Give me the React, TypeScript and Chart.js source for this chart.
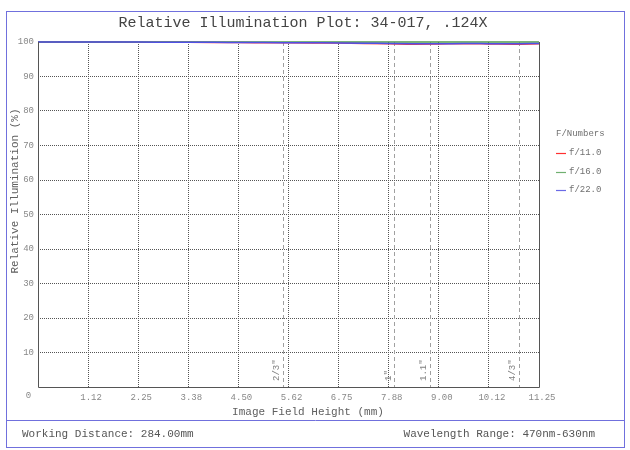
import React, { useEffect, useRef } from 'react';
import { Chart, registerables } from 'chart.js';

Chart.register(...registerables);

const TITLE = 'Relative Illumination Plot: 34-017, .124X';
const X_TITLE = 'Image Field Height (mm)';
const Y_TITLE = 'Relative Illumination (%)';
const FOOTER_LEFT = 'Working Distance: 284.00mm';
const FOOTER_RIGHT = 'Wavelength Range: 470nm-630nm';
const LEGEND_TITLE = 'F/Numbers';

const fieldHeights = [0, 0.5625, 1.125, 1.6875, 2.25, 2.8125, 3.375, 3.9375, 4.5, 5.0625, 5.625, 6.1875, 6.75, 7.3125, 7.875, 8.4375, 9.0, 9.5625, 10.125, 10.6875, 11.25];
const f11Values = [100, 100, 100, 99.98, 99.96, 99.93, 99.9, 99.87, 99.84, 99.8, 99.76, 99.72, 99.68, 99.6, 99.5, 99.38, 99.42, 99.5, 99.45, 99.38, 99.5];
const f16Values = [100, 100, 100, 100, 100, 100, 100, 100, 100, 100, 100, 100, 100, 100, 100, 99.98, 99.97, 99.98, 99.98, 99.97, 99.98];
const f22Values = [100, 100, 100, 100, 99.98, 99.95, 99.92, 99.9, 99.87, 99.84, 99.8, 99.76, 99.72, 99.66, 99.58, 99.52, 99.5, 99.55, 99.52, 99.5, 99.6];

const seriesLabels = ['f/11.0', 'f/16.0', 'f/22.0'];
const seriesColors = ['#ff3838', '#4f9a4f', '#5050e6'];
const legendColors = ['#ff3030', '#70b070', '#6a6ae6'];

const xTickValues = [0, 1.125, 2.25, 3.375, 4.5, 5.625, 6.75, 7.875, 9.0, 10.125, 11.25];
const xTickLabels = ['0', '1.12', '2.25', '3.38', '4.50', '5.62', '6.75', '7.88', '9.00', '10.12', '11.25'];
const yTickStep = 10;

const sensorPositions = [5.5, 8.0, 8.8, 10.8];
const sensorLabels = ['2/3"', '1"', '1.1"', '4/3"'];

const MONO = '"Liberation Mono", "DejaVu Sans Mono", monospace';

const overlayPlugin = {
  id: 'overlay',
  beforeDatasetsDraw(chart: any) {
    const { ctx, chartArea, scales } = chart;
    const xs = scales.x;
    ctx.save();
    ctx.strokeStyle = '#a0a0a0';
    ctx.lineWidth = 1;
    ctx.setLineDash([4, 3]);
    sensorPositions.forEach((v) => {
      const x = Math.round(xs.getPixelForValue(v)) + 0.5;
      ctx.beginPath();
      ctx.moveTo(x, chartArea.top);
      ctx.lineTo(x, chartArea.bottom);
      ctx.stroke();
    });
    ctx.setLineDash([]);
    ctx.fillStyle = '#808080';
    ctx.font = '9px ' + MONO;
    ctx.textAlign = 'left';
    ctx.textBaseline = 'middle';
    sensorPositions.forEach((v, i) => {
      const x = xs.getPixelForValue(v);
      ctx.save();
      ctx.translate(x - 6, chartArea.bottom - 6);
      ctx.rotate(-Math.PI / 2);
      ctx.fillText(sensorLabels[i], 0, 0);
      ctx.restore();
    });
    ctx.restore();
  },
  afterDraw(chart: any) {
    const { ctx, chartArea } = chart;
    ctx.save();
    // plot frame (left, bottom, right)
    ctx.strokeStyle = '#555';
    ctx.lineWidth = 1;
    ctx.beginPath();
    const l = Math.round(chartArea.left) + 0.5;
    const r = Math.round(chartArea.right) + 0.5;
    const b = Math.round(chartArea.bottom) + 0.5;
    ctx.moveTo(l, chartArea.top);
    ctx.lineTo(l, b);
    ctx.lineTo(r, b);
    ctx.lineTo(r, chartArea.top);
    ctx.stroke();

    // origin label
    ctx.fillStyle = '#888';
    ctx.font = '9px ' + MONO;
    ctx.textAlign = 'center';
    ctx.textBaseline = 'middle';
    ctx.fillText('0', 28.5, 396);

    // title
    ctx.fillStyle = '#444';
    ctx.font = '15px ' + MONO;
    ctx.textAlign = 'center';
    ctx.fillText(TITLE, 303, 23);

    // axis titles
    ctx.fillStyle = '#606060';
    ctx.font = '11px ' + MONO;
    ctx.fillText(X_TITLE, 308, 412);
    ctx.save();
    ctx.translate(15.5, 191);
    ctx.rotate(-Math.PI / 2);
    ctx.fillText(Y_TITLE, 0, 0);
    ctx.restore();

    // footer
    ctx.fillStyle = '#555';
    ctx.textAlign = 'left';
    ctx.fillText(FOOTER_LEFT, 22, 434);
    ctx.textAlign = 'right';
    ctx.fillText(FOOTER_RIGHT, 595, 434);

    // legend
    ctx.font = '9px ' + MONO;
    ctx.fillStyle = '#707070';
    ctx.textAlign = 'left';
    ctx.fillText(LEGEND_TITLE, 556, 134);
    seriesLabels.forEach((lab, i) => {
      const y = 153 + i * 18.5;
      ctx.strokeStyle = legendColors[i];
      ctx.lineWidth = 1.2;
      ctx.beginPath();
      ctx.moveTo(556, Math.round(y) + 0.5);
      ctx.lineTo(566, Math.round(y) + 0.5);
      ctx.stroke();
      ctx.fillStyle = '#707070';
      ctx.fillText(lab, 569, y);
    });

    // outer box
    ctx.strokeStyle = '#7070dd';
    ctx.lineWidth = 1;
    ctx.strokeRect(6.5, 11.5, 618, 436);
    ctx.beginPath();
    ctx.moveTo(6.5, 420.5);
    ctx.lineTo(624.5, 420.5);
    ctx.stroke();
    ctx.restore();
  },
};

export default function App() {
  const ref = useRef<HTMLCanvasElement | null>(null);

  useEffect(() => {
    document.body.style.margin = '0';
    const canvas = ref.current;
    if (!canvas) return;
    const series = [f11Values, f16Values, f22Values];
    const chart = new Chart(canvas, {
      type: 'line',
      data: {
        datasets: series.map((vals, i) => ({
          label: seriesLabels[i],
          data: fieldHeights.map((x, j) => ({ x, y: vals[j] })),
          borderColor: seriesColors[i],
          borderWidth: 1.5,
          pointRadius: 0,
          cubicInterpolationMode: 'monotone' as const,
          clip: false as any,
          order: 3 - i,
        })),
      },
      options: {
        animation: false,
        responsive: false,
        maintainAspectRatio: false,
        layout: { padding: { top: 42, right: 91, left: 0, bottom: 0 } },
        plugins: {
          legend: { display: false },
          tooltip: { enabled: false },
          title: { display: false },
        },
        scales: {
          x: {
            type: 'linear',
            min: 0,
            max: 11.25,
            afterBuildTicks: (s: any) => {
              s.ticks = xTickValues.map((v) => ({ value: v }));
            },
            afterFit: (s: any) => {
              s.height = 63;
            },
            grid: {
              color: (c: any) =>
                c.tick && (c.tick.value === 0 || c.tick.value === 11.25) ? 'rgba(0,0,0,0)' : '#555',
              lineWidth: 1,
              drawTicks: false,
            },
            border: { display: false, dash: [1, 1] },
            ticks: {
              autoSkip: false,
              maxRotation: 0,
              padding: 5,
              labelOffset: 3,
              color: '#888',
              font: { family: MONO, size: 9 },
              callback: (_v: any, i: number) => (i === 0 ? '' : xTickLabels[i]),
            },
          },
          y: {
            type: 'linear',
            min: 0,
            max: 100,
            afterFit: (s: any) => {
              s.width = 38;
            },
            grid: {
              color: (c: any) =>
                c.tick && (c.tick.value === 0 || c.tick.value === 100) ? 'rgba(0,0,0,0)' : '#555',
              lineWidth: 1,
              drawTicks: false,
            },
            border: { display: false, dash: [1, 1] },
            ticks: {
              stepSize: yTickStep,
              padding: 4,
              color: '#888',
              font: { family: MONO, size: 9 },
              callback: (v: any) => (v === 0 ? '' : String(v)),
            },
          },
        },
      },
      plugins: [overlayPlugin],
    });
    return () => chart.destroy();
  }, []);

  return (
    <div style={{ position: 'absolute', left: 0, top: 0, width: 630, height: 450 }}>
      <canvas ref={ref} width={630} height={450} style={{ width: 630, height: 450 }} />
    </div>
  );
}
